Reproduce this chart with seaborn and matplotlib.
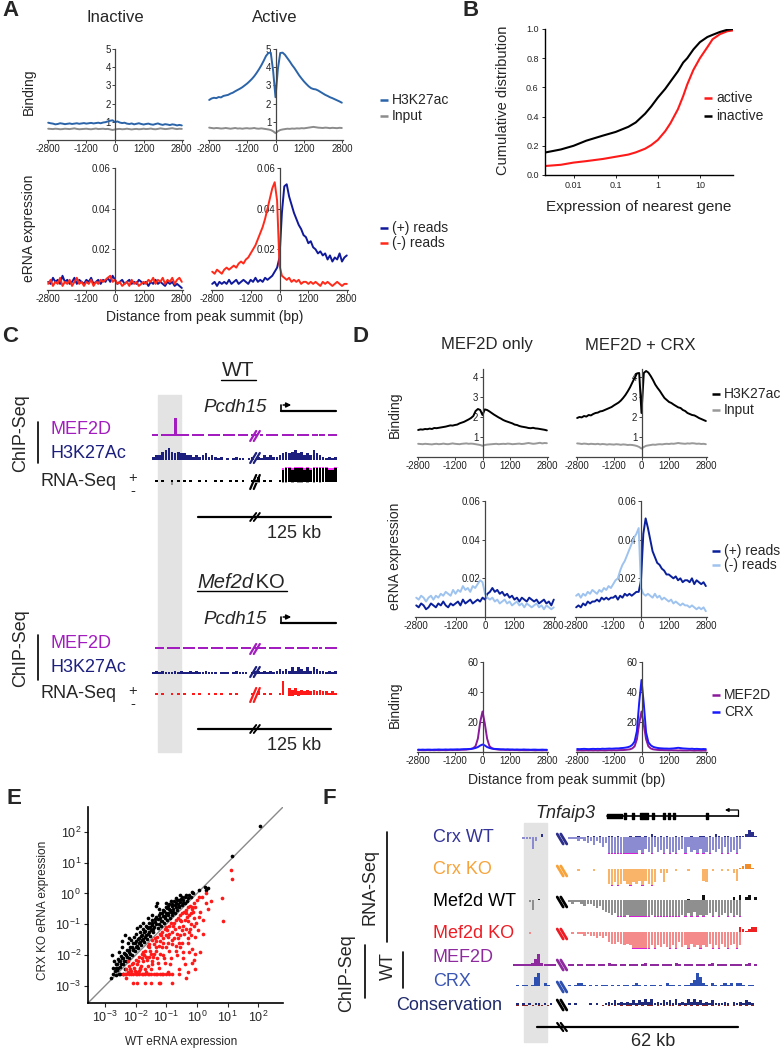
import matplotlib
matplotlib.use('Agg')
import matplotlib.pyplot as plt
from matplotlib.patches import Rectangle
import numpy as np
import seaborn as sns

sns.set_theme(style='white')
plt.rcParams['font.family'] = ['Liberation Sans', 'DejaVu Sans']
plt.rcParams['axes.facecolor'] = 'none'

# ---------------- data ----------------
POS = [-2800, -2700, -2600, -2500, -2400, -2300, -2200, -2100,
       -2000, -1900, -1800, -1700, -1600, -1500, -1400, -1300,
       -1200, -1100, -1000, -900, -800, -700, -600, -500,
       -400, -300, -200, -100, 0, 100, 200, 300,
       400, 500, 600, 700, 800, 900, 1000, 1100,
       1200, 1300, 1400, 1500, 1600, 1700, 1800, 1900,
       2000, 2100, 2200, 2300, 2400, 2500, 2600, 2700, 2800]

# panel A, binding
A_IN_H3 = [0.95, 0.92, 0.90, 0.86, 0.88, 0.92, 0.90, 0.87,
           0.89, 0.91, 0.88, 0.90, 0.92, 0.89, 0.91, 0.93,
           0.90, 0.92, 0.94, 0.91, 0.93, 0.95, 0.92, 0.96,
           0.98, 1.02, 1.06, 1.08, 0.98, 1.02, 0.96, 0.93,
           0.95, 0.90, 0.88, 0.91, 0.86, 0.89, 0.92, 0.88,
           0.85, 0.88, 0.90, 0.86, 0.84, 0.88, 0.91, 0.86,
           0.83, 0.87, 0.85, 0.82, 0.86, 0.84, 0.80, 0.83, 0.80]
A_IN_INPUT = [0.62, 0.61, 0.60, 0.62, 0.61, 0.59, 0.60, 0.62,
              0.61, 0.60, 0.62, 0.64, 0.61, 0.59, 0.60, 0.61,
              0.62, 0.60, 0.59, 0.61, 0.63, 0.60, 0.61, 0.62,
              0.60, 0.61, 0.58, 0.55, 0.58, 0.60, 0.61, 0.59,
              0.60, 0.62, 0.60, 0.58, 0.60, 0.61, 0.59, 0.60,
              0.62, 0.60, 0.61, 0.63, 0.60, 0.59, 0.61, 0.64,
              0.62, 0.60, 0.61, 0.63, 0.65, 0.62, 0.60, 0.62, 0.61]
A_AC_H3 = [2.20, 2.28, 2.32, 2.30, 2.36, 2.34, 2.42, 2.45,
           2.48, 2.55, 2.60, 2.68, 2.75, 2.82, 2.90, 3.00,
           3.10, 3.22, 3.35, 3.50, 3.68, 3.88, 4.10, 4.35,
           4.62, 4.78, 4.80, 3.80, 2.35, 3.90, 4.78, 4.80,
           4.68, 4.50, 4.32, 4.12, 3.95, 3.75, 3.55, 3.38,
           3.22, 3.08, 2.95, 2.85, 2.80, 2.78, 2.72, 2.64,
           2.56, 2.48, 2.42, 2.35, 2.30, 2.24, 2.18, 2.12, 2.05]
A_AC_INPUT = [0.68, 0.66, 0.64, 0.66, 0.65, 0.63, 0.64, 0.66,
              0.64, 0.62, 0.64, 0.66, 0.63, 0.64, 0.62, 0.64,
              0.65, 0.63, 0.64, 0.66, 0.63, 0.62, 0.64, 0.62,
              0.60, 0.58, 0.55, 0.48, 0.38, 0.48, 0.55, 0.58,
              0.60, 0.62, 0.61, 0.63, 0.62, 0.64, 0.63, 0.65,
              0.64, 0.66, 0.68, 0.70, 0.72, 0.70, 0.68, 0.67,
              0.66, 0.68, 0.67, 0.65, 0.67, 0.66, 0.65, 0.67, 0.66]

# panel A, eRNA
A_IN_PLUS = [0.004, 0.003, 0.006, 0.004, 0.005, 0.003, 0.007, 0.004,
             0.005, 0.003, 0.004, 0.006, 0.003, 0.005, 0.004, 0.003,
             0.005, 0.004, 0.006, 0.003, 0.004, 0.005, 0.003, 0.005,
             0.004, 0.006, 0.004, 0.007, 0.005, 0.003, 0.004, 0.005,
             0.003, 0.004, 0.005, 0.003, 0.004, 0.003, 0.005, 0.004,
             0.003, 0.004, 0.002, 0.004, 0.003, 0.005, 0.003, 0.004,
             0.003, 0.002, 0.004, 0.003, 0.004, 0.002, 0.003, 0.002, 0.001]
A_IN_MINUS = [0.003, 0.005, 0.002, 0.004, 0.003, 0.006, 0.002, 0.004,
              0.003, 0.005, 0.002, 0.004, 0.006, 0.003, 0.004, 0.002,
              0.004, 0.003, 0.005, 0.002, 0.004, 0.003, 0.005, 0.004,
              0.005, 0.006, 0.007, 0.004, 0.005, 0.003, 0.004, 0.002,
              0.003, 0.004, 0.002, 0.005, 0.003, 0.004, 0.002, 0.003,
              0.004, 0.003, 0.005, 0.004, 0.006, 0.003, 0.005, 0.004,
              0.006, 0.003, 0.005, 0.004, 0.006, 0.003, 0.005, 0.006, 0.004]
A_AC_PLUS = [0.003, 0.004, 0.002, 0.004, 0.003, 0.004, 0.003, 0.005,
             0.003, 0.004, 0.005, 0.003, 0.004, 0.005, 0.004, 0.003,
             0.005, 0.004, 0.006, 0.004, 0.005, 0.004, 0.006, 0.005,
             0.006, 0.007, 0.009, 0.011, 0.016, 0.038, 0.051, 0.052,
             0.046, 0.042, 0.038, 0.035, 0.032, 0.030, 0.027, 0.026,
             0.023, 0.024, 0.021, 0.020, 0.018, 0.019, 0.017, 0.018,
             0.015, 0.017, 0.014, 0.016, 0.015, 0.018, 0.014, 0.016, 0.017]
A_AC_MINUS = [0.009, 0.008, 0.010, 0.009, 0.008, 0.010, 0.011, 0.010,
              0.011, 0.012, 0.011, 0.013, 0.014, 0.013, 0.015, 0.016,
              0.018, 0.020, 0.022, 0.025, 0.028, 0.031, 0.035, 0.040,
              0.045, 0.050, 0.053, 0.044, 0.012, 0.007, 0.006, 0.005,
              0.006, 0.004, 0.005, 0.004, 0.005, 0.003, 0.004, 0.004,
              0.003, 0.004, 0.003, 0.004, 0.003, 0.002, 0.004, 0.003,
              0.004, 0.003, 0.002, 0.003, 0.004, 0.003, 0.002, 0.003, 0.003]

# panel B
B_X = [0.0022, 0.005, 0.01, 0.02, 0.05, 0.1, 0.2, 0.3, 0.5, 0.7, 1, 1.5,
       2, 3, 4, 5, 7, 10, 15, 20, 30, 45, 60]
B_INACTIVE = [0.155, 0.175, 0.20, 0.235, 0.27, 0.295, 0.33, 0.36, 0.42, 0.47,
              0.53, 0.59, 0.64, 0.71, 0.77, 0.80, 0.86, 0.91, 0.945, 0.96,
              0.98, 0.995, 1.0]
B_ACTIVE = [0.062, 0.07, 0.085, 0.095, 0.11, 0.125, 0.14, 0.155, 0.18, 0.205,
            0.24, 0.30, 0.355, 0.45, 0.54, 0.62, 0.72, 0.80, 0.875, 0.93,
            0.965, 0.985, 0.99]

# panel D, binding
D_ONLY_H3 = [1.35, 1.38, 1.37, 1.40, 1.39, 1.42, 1.40, 1.45,
             1.44, 1.46, 1.48, 1.50, 1.52, 1.55, 1.58, 1.57,
             1.60, 1.62, 1.68, 1.72, 1.76, 1.82, 1.88, 1.95,
             2.05, 2.30, 2.40, 2.35, 2.10, 2.38, 2.35, 2.28,
             2.20, 2.12, 2.05, 1.98, 1.92, 1.85, 1.80, 1.76,
             1.72, 1.68, 1.62, 1.60, 1.55, 1.52, 1.50, 1.48,
             1.45, 1.44, 1.46, 1.43, 1.42, 1.40, 1.38, 1.36, 1.33]
D_ONLY_INPUT = [0.66, 0.65, 0.64, 0.66, 0.65, 0.64, 0.63, 0.65,
                0.66, 0.64, 0.65, 0.67, 0.65, 0.64, 0.66, 0.68,
                0.66, 0.65, 0.64, 0.66, 0.67, 0.68, 0.66, 0.67,
                0.66, 0.64, 0.62, 0.60, 0.56, 0.60, 0.62, 0.63,
                0.64, 0.65, 0.66, 0.64, 0.65, 0.66, 0.65, 0.67,
                0.66, 0.64, 0.65, 0.66, 0.67, 0.65, 0.66, 0.68,
                0.70, 0.68, 0.66, 0.67, 0.69, 0.71, 0.68, 0.70, 0.69]
D_CRX_H3 = [1.95, 2.00, 1.98, 2.05, 2.02, 2.10, 2.08, 2.15,
            2.20, 2.22, 2.28, 2.30, 2.35, 2.40, 2.45, 2.50,
            2.58, 2.65, 2.72, 2.82, 2.95, 3.10, 3.28, 3.48,
            3.72, 3.95, 4.18, 4.20, 2.20, 4.20, 4.30, 4.22,
            4.05, 3.85, 3.62, 3.45, 3.30, 3.12, 2.95, 2.85,
            2.75, 2.70, 2.62, 2.55, 2.48, 2.45, 2.35, 2.30,
            2.20, 2.15, 2.10, 2.08, 2.02, 1.95, 1.90, 1.85, 1.80]
D_CRX_INPUT = [0.68, 0.67, 0.65, 0.67, 0.66, 0.64, 0.66, 0.65,
               0.64, 0.66, 0.63, 0.65, 0.64, 0.62, 0.64, 0.63,
               0.62, 0.64, 0.63, 0.61, 0.63, 0.62, 0.60, 0.61,
               0.60, 0.58, 0.55, 0.50, 0.42, 0.50, 0.56, 0.58,
               0.60, 0.62, 0.61, 0.63, 0.64, 0.63, 0.65, 0.66,
               0.65, 0.67, 0.66, 0.68, 0.70, 0.68, 0.67, 0.66,
               0.68, 0.67, 0.69, 0.68, 0.66, 0.67, 0.65, 0.66, 0.64]

# panel D, eRNA
D_ONLY_PLUS = [0.006, 0.005, 0.007, 0.006, 0.004, 0.005, 0.007, 0.006,
               0.005, 0.007, 0.006, 0.008, 0.006, 0.005, 0.007, 0.006,
               0.007, 0.008, 0.006, 0.009, 0.007, 0.008, 0.009, 0.007,
               0.008, 0.009, 0.008, 0.010, 0.009, 0.012, 0.013, 0.015,
               0.013, 0.014, 0.012, 0.013, 0.011, 0.012, 0.010, 0.011,
               0.009, 0.010, 0.008, 0.010, 0.009, 0.008, 0.010, 0.009,
               0.008, 0.009, 0.007, 0.008, 0.009, 0.007, 0.008, 0.006, 0.009]
D_ONLY_MINUS = [0.010, 0.009, 0.011, 0.010, 0.008, 0.010, 0.011, 0.009,
                0.011, 0.010, 0.012, 0.011, 0.013, 0.012, 0.011, 0.014,
                0.012, 0.014, 0.013, 0.016, 0.014, 0.015, 0.013, 0.016,
                0.015, 0.017, 0.019, 0.018, 0.012, 0.010, 0.009, 0.010,
                0.008, 0.009, 0.007, 0.008, 0.009, 0.007, 0.008, 0.006,
                0.007, 0.008, 0.006, 0.007, 0.005, 0.007, 0.006, 0.005,
                0.006, 0.007, 0.005, 0.006, 0.004, 0.006, 0.005, 0.004, 0.005]
D_CRX_PLUS = [0.005, 0.006, 0.005, 0.007, 0.006, 0.008, 0.007, 0.008,
              0.008, 0.009, 0.008, 0.010, 0.009, 0.010, 0.009, 0.010,
              0.010, 0.011, 0.009, 0.011, 0.010, 0.012, 0.011, 0.012,
              0.011, 0.012, 0.013, 0.013, 0.019, 0.043, 0.051, 0.046,
              0.040, 0.034, 0.031, 0.028, 0.027, 0.025, 0.024, 0.022,
              0.022, 0.021, 0.020, 0.021, 0.019, 0.020, 0.018, 0.019,
              0.019, 0.018, 0.020, 0.017, 0.019, 0.018, 0.017, 0.018, 0.016]
D_CRX_MINUS = [0.011, 0.012, 0.010, 0.012, 0.011, 0.013, 0.012, 0.014,
               0.013, 0.012, 0.014, 0.013, 0.015, 0.014, 0.016, 0.015,
               0.017, 0.019, 0.020, 0.024, 0.027, 0.029, 0.032, 0.035,
               0.038, 0.041, 0.043, 0.046, 0.015, 0.012, 0.011, 0.012,
               0.011, 0.010, 0.012, 0.010, 0.011, 0.009, 0.010, 0.009,
               0.008, 0.009, 0.007, 0.008, 0.007, 0.006, 0.007, 0.006,
               0.006, 0.005, 0.006, 0.005, 0.004, 0.005, 0.004, 0.005, 0.003]

# panel D, TF binding
D_ONLY_MEF2D = [1.2, 1.3, 1.2, 1.2, 1.3, 1.2, 1.3, 1.2,
                1.3, 1.2, 1.3, 1.3, 1.2, 1.3, 1.4, 1.3,
                1.4, 1.3, 1.4, 1.5, 1.5, 1.6, 1.8, 2.0,
                2.6, 4.0, 9.0, 20.0, 27.0, 19.0, 9.0, 4.0,
                2.6, 2.0, 1.8, 1.6, 1.5, 1.5, 1.4, 1.4,
                1.3, 1.4, 1.3, 1.3, 1.2, 1.3, 1.2, 1.2,
                1.2, 1.3, 1.2, 1.1, 1.2, 1.2, 1.1, 1.2, 1.1]
D_ONLY_CRX = [1.6, 1.5, 1.6, 1.5, 1.6, 1.6, 1.5, 1.6,
              1.6, 1.7, 1.6, 1.6, 1.7, 1.6, 1.7, 1.7,
              1.7, 1.8, 1.7, 1.8, 1.9, 1.9, 2.0, 2.1,
              2.3, 2.7, 3.3, 4.3, 5.0, 4.4, 3.3, 2.7,
              2.3, 2.1, 2.0, 1.9, 1.8, 1.8, 1.7, 1.8,
              1.7, 1.7, 1.6, 1.7, 1.6, 1.6, 1.7, 1.6,
              1.6, 1.5, 1.6, 1.6, 1.5, 1.5, 1.6, 1.5, 1.5]
D_CRX_MEF2D = [1.0, 1.1, 1.0, 1.0, 1.1, 1.0, 1.1, 1.0,
               1.1, 1.0, 1.1, 1.1, 1.0, 1.1, 1.2, 1.1,
               1.2, 1.1, 1.2, 1.3, 1.3, 1.4, 1.6, 1.8,
               2.4, 3.8, 8.5, 19.0, 27.0, 18.0, 8.5, 3.8,
               2.4, 1.8, 1.6, 1.4, 1.3, 1.3, 1.2, 1.2,
               1.1, 1.2, 1.1, 1.1, 1.0, 1.1, 1.0, 1.0,
               1.0, 1.1, 1.0, 0.9, 1.0, 1.0, 0.9, 1.0, 0.9]
D_CRX_CRX = [2.0, 1.9, 2.0, 2.1, 2.0, 1.9, 2.0, 2.1,
             2.0, 2.1, 2.0, 2.2, 2.1, 2.2, 2.3, 2.2,
             2.3, 2.4, 2.4, 2.6, 2.7, 2.9, 3.2, 3.7,
             4.8, 7.0, 14.0, 33.0, 48.0, 32.0, 13.0, 6.5,
             4.5, 3.5, 3.0, 2.7, 2.5, 2.4, 2.3, 2.3,
             2.2, 2.3, 2.4, 2.6, 2.8, 2.6, 2.4, 2.3,
             2.2, 2.1, 2.2, 2.0, 2.1, 2.0, 1.9, 2.0, 1.9]

# panel E, log10 eRNA expression (WT, CRX KO)
BLACK_LOGX = [2.05, 1.15, 0.25, 0.35, 0.05, -0.12, -0.2, -0.25, -0.3, -0.32,
              -0.38, -0.4, -0.45, -0.48, -0.5, -0.55, -0.58, -0.6, -0.62, -0.65,
              -0.68, -0.7, -0.72, -0.75, -0.78, -0.8, -0.82, -0.85, -0.88, -0.9,
              -0.92, -0.95, -0.98, -1.0, -1.02, -1.05, -1.08, -1.1, -1.12, -1.15,
              -1.18, -1.2, -1.22, -1.25, -1.28, -1.3, -1.33, -1.35, -1.38, -1.4,
              -1.42, -1.45, -1.48, -1.5, -1.52, -1.55, -1.58, -1.6, -1.62, -1.65,
              -1.68, -1.7, -1.72, -1.75, -1.78, -1.8, -1.82, -1.85, -1.88, -1.9,
              -1.92, -1.95, -1.98, -2.0, -2.02, -2.05, -2.08, -2.1, -2.12, -2.15,
              -2.18, -2.2, -2.22, -2.25, -2.28, -2.3, -2.32, -2.35, -2.38, -2.4,
              -2.42, -2.45, -2.48, -2.5, -2.52, -2.55, -2.58, -2.6, -2.62, -2.65,
              -2.7, -2.72, -2.75, -2.78, -2.8, -2.5, -2.4, -2.35, -0.15, 0.3,
              -1.0, -0.7, -1.6, -2.0, -1.25, -0.95, -0.55, -0.85, -1.75, -2.2,
              -0.35, -0.45, -0.52, -0.6, -0.66, -0.73, -0.77, -0.83, -0.87, -0.93,
              -0.97, -1.03, -1.07, -1.13, -1.17, -1.23, -1.27, -1.32, -1.37, -1.43,
              -1.47, -1.53, -1.57, -1.63, -1.67, -1.73, -1.77, -1.83, -1.87, -1.93,
              -1.97, -2.03, -2.07, -2.13, -2.17, -2.23, -2.27, -2.33, -2.37, -2.43,
              -2.47, -2.53, -2.57, -2.63, -2.68, -2.55, -2.65, -2.45, -1.85, -1.45]
BLACK_LOGY = [2.2, 1.2, 0.2, 0.18, 0.12, 0.0, -0.1, -0.05, -0.15, -0.25,
              -0.12, -0.3, -0.2, -0.38, -0.1, -0.28, -0.45, -0.2, -0.35, -0.55,
              -0.3, -0.45, -0.62, -0.25, -0.5, -0.7, -0.4, -0.6, -0.78, -0.35,
              -0.52, -0.7, -0.85, -0.45, -0.62, -0.8, -0.95, -0.55, -0.72, -0.88,
              -1.05, -0.62, -0.8, -0.98, -1.12, -0.3, -0.4, -0.75, -0.92, -1.1,
              -1.25, -0.85, -1.02, -1.2, -1.38, -0.95, -1.12, -1.3, -1.48, -1.05,
              -1.22, -1.4, -1.58, -1.15, -1.35, -1.52, -1.68, -1.25, -1.45, -1.62,
              -1.78, -1.12, -1.55, -1.72, -1.88, -1.4, -1.62, -1.8, -1.98, -1.5,
              -1.72, -1.9, -2.08, -1.6, -1.82, -2.0, -2.18, -1.35, -1.92, -2.1,
              -2.28, -1.75, -2.02, -2.2, -2.38, -1.9, -2.12, -2.3, -2.48, -2.65,
              -2.2, -2.4, -2.6, -2.0, -2.75, -2.6, -2.6, -2.45, 0.05, 0.1,
              -0.3, -0.15, -0.8, -1.3, -0.5, -0.4, -0.05, -0.25, -0.95, -1.45,
              -0.05, -0.32, -0.18, -0.42, -0.22, -0.38, -0.6, -0.33, -0.55, -0.62,
              -0.48, -0.72, -0.58, -0.65, -0.9, -0.7, -0.82, -1.0, -0.82, -1.15,
              -0.95, -1.08, -1.25, -1.1, -1.35, -1.25, -1.48, -1.38, -1.58, -1.48,
              -1.7, -1.6, -1.82, -1.72, -1.95, -1.82, -2.05, -1.95, -2.18, -2.1,
              -2.3, -2.2, -2.42, -2.3, -2.5, -2.6, -2.4, -1.55, -1.05, -0.7]
RED_LOGX = [-2.4, -2.3, -2.2, -2.1, -2.0, -1.9, -1.8, -1.7, -1.6, -1.5,
            -1.4, -1.3, -1.2, -1.1, -1.0, -0.9, -0.8, -2.35, -2.15, -1.95,
            -1.75, -1.55, -1.35, -1.15, -2.1, -1.95, -1.7, -1.5, -1.25, -1.2,
            -0.8, -2.3, -0.35, -0.6, -0.3, -0.15, -0.05,
            -2.3, -2.2, -2.1, -2.05, -2.0, -1.95, -1.9, -1.85, -1.8, -1.75,
            -1.7, -1.65, -1.6, -1.55, -1.5, -1.45, -1.4, -1.35, -1.3, -1.25,
            -1.2, -1.15, -1.1, -1.05, -1.0, -0.95, -0.9, -0.85, -0.8, -0.75,
            -0.7, -0.65, -0.6, -0.55, -0.5, -0.45, -0.4, -0.35, -0.3, -0.25,
            -0.2, -0.15, -0.1, -2.25, -2.15, -1.9, -1.7, -1.5, -1.35, -1.2,
            -1.05, -0.9, -0.75, -0.62, -0.48, -0.35, -0.22, -0.1, -1.6, -1.45,
            -1.3, -1.15, -1.0, -0.85, -0.7, -0.55, -0.42, -0.28, -1.8, -1.4,
            -1.1, -0.8, -0.6, -0.5, -0.3, -0.65, -0.95, -1.25, -1.55, -2.0,
            -0.45, -0.2, -0.05, 0.0, 0.05,
            1.1, 1.15, 0.8, 0.85, 0.45, 0.3, 0.35, 0.2, 0.2, 0.1,
            -0.1, -0.05, -0.3, -0.2, 0.15, 0.3, 0.1, -0.1, -0.15,
            -2.25, -2.12, -2.02, -1.92, -1.82, -1.72, -1.62, -1.52, -1.42, -1.32,
            -1.22, -1.12, -1.02, -0.92, -0.82, -0.72, -0.62, -0.52, -0.42, -0.32,
            -0.22, -0.12, -0.02, -1.77, -1.57, -1.37, -1.17, -0.97, -0.77, -0.57,
            -0.37, -0.17, -1.87, -1.47, -1.07, -0.67, -0.27, -0.87, -0.47, -1.27,
            -2.18, -1.65, -0.95, -0.4, -0.6, 0.05, -0.08, 0.02, -0.55, -0.25]
RED_LOGY = [-2.6, -2.6, -2.6, -2.6, -2.6, -2.6, -2.6, -2.6, -2.6, -2.6,
            -2.6, -2.6, -2.6, -2.6, -2.6, -2.6, -2.6, -2.6, -2.6, -2.6,
            -2.6, -2.6, -2.6, -2.6, -2.9, -2.9, -2.9, -2.9, -2.9, -2.9,
            -2.9, -2.75, -2.75, -2.6, -2.55, -2.25, -1.95,
            -2.45, -2.35, -2.25, -2.4, -2.15, -2.3, -2.05, -2.4, -1.95, -2.2,
            -1.85, -2.05, -2.35, -1.75, -1.95, -2.2, -1.65, -1.85, -2.1, -2.4,
            -1.55, -1.75, -2.0, -2.25, -1.35, -1.6, -1.85, -2.1, -1.25, -1.45,
            -1.7, -2.0, -1.1, -1.35, -1.6, -1.9, -0.85, -1.15, -1.45, -0.7,
            -1.0, -0.5, -0.8, -2.2, -2.5, -2.5, -2.45, -2.45, -1.55, -1.3,
            -1.15, -1.05, -0.95, -0.8, -0.65, -0.55, -0.4, -0.3, -1.7, -1.5,
            -1.4, -1.25, -1.1, -0.95, -0.85, -0.7, -0.6, -0.45, -2.1, -1.95,
            -1.6, -1.5, -1.6, -1.2, -0.9, -1.3, -1.4, -1.7, -2.05, -2.55,
            -1.05, -0.65, -0.45, -0.2, -0.1,
            0.75, 0.48, -0.15, -0.9, -0.25, -0.3, -0.5, -0.85, -1.3, -1.9,
            -2.15, -2.45, -1.6, -1.35, -0.1, 0.0, -0.6, -1.05, -1.8,
            -2.55, -2.3, -2.5, -2.2, -2.35, -2.0, -2.15, -1.85, -2.05, -1.75,
            -1.95, -1.45, -1.75, -1.3, -1.65, -1.15, -1.45, -0.9, -1.3, -0.75,
            -1.15, -0.6, -0.95, -1.9, -1.65, -1.45, -1.35, -1.2, -1.05, -0.85,
            -0.65, -0.45, -2.45, -2.3, -2.1, -1.85, -1.25, -2.3, -2.1, -2.25,
            -2.45, -2.55, -2.55, -2.3, -2.45, -0.75, -1.4, -1.2, -1.75, -1.9]

# panel C, genome tracks (relative bar heights in 60 bins)
C_WT_MEF2D = "1101111911" "1101111011" "1101111011" "1011010111" "1011110111" "1011110111"
C_WT_H3 = "2335675454" "4332323423" "2120101211" "0120213232" "2345456453" "4364321212"
C_WT_RNA_UP = "0101001010" "1010010100" "1010010101" "0011301010" "0189989998" "9899999889"
C_WT_RNA_DN = "0000002000" "0000000000" "0000000000" "0001100000" "0011010110" "1010100000"
C_KO_MEF2D = "0111011110" "1111011101" "1110111101" "1101111011" "1101110111" "1011101111"
C_KO_H3 = "1212111212" "1121211211" "1011101211" "1012212121" "2323242432" "4243221212"
C_KO_RNA_UP = "0101001010" "1001010010" "1010010100" "0010201010" "0180434232" "3232322121"
C_KO_RNA_DN = "0000000000" "0000000000" "0000000000" "0000000000" "0000110100" "0000000000"

# panel F, genome tracks (relative bar heights in 80 bins)
CRXWT_DN = "0001116200" "00000000" "1112123242353" "9999999999" "7968958796989769587969897869598796" "00000"
CRXWT_UP = "0000000002" "00000000" "00010010101001101000101" "1010210101001010010011010210110011" "12431"
CRXKO_DN = "0000000000" "00000000" "0001000010000" "8979868978696897" "02720010001000" "0670" "10010102" "60" "00000"
CRXKO_UP = "0000000000" "0000000000" "0000000000" "0000000000" "0000000000" "0000000000" "0000000000" "0000123310"
MEFWT_DN = "0000015000" "00000000" "12112322343" "56787" "99989999999899999999989" "796989879698797989" "00000"
MEFWT_UP = "0000000010" "0000000000" "0000000000" "0000000000" "0000000000" "0000000100" "0030000000" "0020302302"
MEFKO_DN = "0000010000" "00000000" "0101121223232" "56656767" "999999" "797868979587968797869796897697" "00000"
MEFKO_UP = "0000000000" "0000000000" "0000000000" "0000000000" "0000000000" "0000000000" "0000000000" "0000321233"
F_MEF2D = "1111112592111" "10000" "1101101110" "1102110110" "1110120111" "0111021011" "1011101201" "1101111012" "01"
F_CRX = "0101101690210" "00000" "1012210101" "0110101011" "0121010110" "1021101011" "2496210210" "121202210110"
F_CONS_UP = "0101010110101" "00000" "1010000101" "0012131212" "1313242412" "1323141214" "2423121311" "121021213210"
F_CONS_DN = "0101101011010" "00000" "0000000000" "0101010101" "1010101101" "0101101010" "1010110101" "011010101010"

# Tnfaip3 gene model (kb from left edge of the F window)
TNF_GENE = (29.0, 69.4)
TNF_UTR = [(29.0, 4.6)]
TNF_EXONS = [(34.4, 0.6), (36.8, 0.6), (39.2, 2.4), (42.8, 0.6),
             (46.4, 0.5), (47.8, 0.5), (49.4, 0.6), (59.6, 0.6)]

# ---------------- figure helpers ----------------
W, H = 780, 1050
fig = plt.figure(figsize=(7.8, 10.5), dpi=100)
canvas = fig.add_axes([0, 0, 1, 1])
canvas.set_xlim(0, W)
canvas.set_ylim(H, 0)
canvas.axis('off')


def box(x0, y0, x1, y1):
    return fig.add_axes([x0 / W, 1 - y1 / H, (x1 - x0) / W, (y1 - y0) / H])


def txt(x, y, s, size=10, **kw):
    kw.setdefault('ha', 'left')
    kw.setdefault('va', 'center')
    canvas.text(x, y, s, fontsize=size, **kw)


def legend(x, y, label, color, size=10):
    canvas.plot([x, x + 8], [y, y], color=color, lw=1.8, solid_capstyle='butt')
    txt(x + 12, y, label, size)


def brk(x, y, color, back=False, lw=1.6, h=5):
    s = -1 if back else 1
    for d in (-1.8, 1.8):
        canvas.plot([x - 3 + d, x + 3 + d], [y + s * h, y - s * h], color=color, lw=lw)


def profile(rect, series, ylim, yticks):
    ax = box(*rect)
    for vals, color in series:
        sns.lineplot(x=POS, y=vals, color=color, lw=1.4, ax=ax)
    ax.set_xlim(-2850, 2850)
    ax.set_ylim(*ylim)
    ax.set_xticks([-2800, -1200, 0, 1200, 2800])
    ax.set_xticklabels(['-2800', '-1200', '0', '1200', '2800'])
    ax.set_yticks(yticks)
    ax.set_yticklabels([f'{t:g}' for t in yticks])
    ax.spines['top'].set_visible(False)
    ax.spines['right'].set_visible(False)
    ax.spines['left'].set_position(('data', 0))
    for side in ['left', 'bottom']:
        ax.spines[side].set_color('#444444')
        ax.spines[side].set_linewidth(0.9)
    ax.tick_params(bottom=True, left=True, labelsize=7, length=2, width=0.6,
                   pad=1, colors='#222222')
    ax.set_xlabel('')
    ax.set_ylabel('')
    return ax


def heights(s):
    return [int(c) for c in s]


def track(rect, up, color, ylim, down=None, dcolor=None, cap=None, width=1.0):
    ax = box(*rect)
    hu = heights(up)
    ax.bar(range(len(hu)), hu, width=width, color=color, linewidth=0)
    if cap:
        top = [h if h >= 8 else 0 for h in hu]
        ax.bar(range(len(hu)), [0.7 if t else 0 for t in top], bottom=[t - 0.7 for t in top],
               width=width, color=cap, linewidth=0)
    if down is not None:
        hd = [-h for h in heights(down)]
        ax.bar(range(len(hd)), hd, width=width, color=dcolor, linewidth=0)
        if cap:
            ax.bar(range(len(hd)), [0.7 if h <= -9 else 0 for h in hd],
                   bottom=[h for h in hd], width=width, color=cap, linewidth=0)
    ax.set_xlim(-0.5, len(hu) - 0.5)
    ax.set_ylim(*ylim)
    ax.axis('off')
    return ax


# ---------------- panel A ----------------
BLUE_H3 = '#2b64a8'
GREY = '#8c8c8c'
NAVY = '#10199a'
RED = '#ff2a1a'

txt(2, 11, 'A', 16, weight='bold')
txt(115, 18, 'Inactive', 12, ha='center')
txt(275, 18, 'Active', 12, ha='center')
profile((47, 49, 183, 140), [(A_IN_H3, BLUE_H3), (A_IN_INPUT, GREY)], (0, 5), [1, 2, 3, 4, 5])
profile((208, 49, 343, 140), [(A_AC_H3, BLUE_H3), (A_AC_INPUT, GREY)], (0, 5), [1, 2, 3, 4, 5])
profile((47, 168, 183, 290), [(A_IN_PLUS, NAVY), (A_IN_MINUS, RED)], (0, 0.06), [0.02, 0.04, 0.06])
profile((211, 168, 348, 290), [(A_AC_PLUS, NAVY), (A_AC_MINUS, RED)], (0, 0.06), [0.02, 0.04, 0.06])
txt(29, 92, 'Binding', 10, rotation=90, ha='center')
txt(29, 228, 'eRNA expression', 10, rotation=90, ha='center')
txt(205, 317, 'Distance from peak summit (bp)', 10, ha='center')
legend(380, 100, 'H3K27ac', BLUE_H3)
legend(380, 116, 'Input', GREY)
legend(380, 228, '(+) reads', NAVY)
legend(380, 243, '(-) reads', RED)

# ---------------- panel B ----------------
txt(462, 10, 'B', 16, weight='bold')
axb = box(545, 29, 733, 175)
sns.lineplot(x=B_X, y=B_ACTIVE, color='#ff1a1a', lw=1.5, ax=axb)
sns.lineplot(x=B_X, y=B_INACTIVE, color='black', lw=1.5, ax=axb)
axb.set_xscale('log')
axb.set_xlim(0.0021, 61)
axb.set_ylim(0, 1.0)
axb.set_xticks([0.01, 0.1, 1, 10])
axb.set_xticklabels(['0.01', '0.1', '1', '10'])
axb.minorticks_off()
axb.set_yticks([0, 0.2, 0.4, 0.6, 0.8, 1.0])
axb.set_yticklabels(['0.0', '0.2', '0.4', '0.6', '0.8', '1.0'])
sns.despine(ax=axb)
for side in ['left', 'bottom']:
    axb.spines[side].set_color('black')
    axb.spines[side].set_linewidth(1.0)
axb.tick_params(bottom=True, left=True, labelsize=6.5, length=2.5, width=0.7, pad=2)
txt(503, 100, 'Cumulative distribution', 10.5, rotation=90, ha='center')
txt(639, 207, 'Expression of nearest gene', 11, ha='center')
legend(704, 98, 'active', '#ff1a1a')
legend(704, 116, 'inactive', 'black')

# ---------------- panel C ----------------
MEF_PURPLE = '#a21cbf'
H3_NAVY = '#1c1f7e'
txt(2, 337, 'C', 16, weight='bold')
canvas.add_patch(Rectangle((158, 395), 23, 357, color='#e3e3e3', zorder=0))

for (title_y, pc_y, chip_y, bar_y, mef_y, h3_y, rna_y, scale_y, rna_col,
     mef_s, h3_s, up_s, dn_s) in [
        (371, 407, 433, (422, 463), 430, 453, 481, 517, 'black',
         C_WT_MEF2D, C_WT_H3, C_WT_RNA_UP, C_WT_RNA_DN),
        (582, 619, 648, (635, 680), 643, 667, 694, 729, '#ff1a1a',
         C_KO_MEF2D, C_KO_H3, C_KO_RNA_UP, C_KO_RNA_DN)]:
    txt(21, chip_y, 'ChIP-Seq', 13, rotation=90, ha='center')
    canvas.plot([38, 38], list(bar_y), color='black', lw=1.2)
    txt(51, mef_y, 'MEF2D', 13, color=MEF_PURPLE)
    txt(51, h3_y, 'H3K27Ac', 13, color=H3_NAVY)
    txt(40, rna_y, 'RNA-Seq', 13)
    txt(133, rna_y - 3, '+', 10.5, ha='center')
    txt(133, rna_y + 10, '-', 10.5, ha='center')
    txt(235, pc_y, 'Pcdh15', 13.5, ha='center', style='italic')
    canvas.plot([281, 336], [pc_y + 4, pc_y + 4], color='black', lw=1.6)
    canvas.plot([281, 281], [pc_y + 4, pc_y - 2], color='black', lw=1.2)
    canvas.annotate('', xy=(294, pc_y - 2), xytext=(280.4, pc_y - 2),
                    arrowprops=dict(arrowstyle='-|>', lw=1.1, color='black', mutation_scale=7))
    track((152, mef_y - 13, 337, mef_y + 6), mef_s, MEF_PURPLE, (0, 9.5))
    track((152, h3_y - 9, 337, h3_y + 7), h3_s, H3_NAVY, (0, 9.5), width=0.85)
    track((152, rna_y - 15, 337, rna_y + 9), up_s, rna_col, (-5, 9.5), down=dn_s,
          dcolor='#9a9a9a' if rna_col == 'black' else rna_col,
          cap='#ff33ff' if rna_col == 'black' else None, width=0.85)
    brk(255, mef_y + 6, MEF_PURPLE)
    brk(255, h3_y + 5, H3_NAVY)
    brk(255, rna_y + 1, rna_col, h=7)
    canvas.plot([198, 331], [scale_y, scale_y], color='black', lw=1.6)
    brk(255, scale_y, 'black', lw=1.4, h=4)
    txt(294, scale_y + 16, '125 kb', 13, ha='center')

txt(238, 371, 'WT', 15, ha='center')
canvas.plot([221, 256], [380, 380], color='black', lw=1)
txt(197, 582, 'Mef2d', 14.5, style='italic')
txt(250, 582, ' KO', 14.5)
canvas.plot([197, 287], [591, 591], color='black', lw=1)

# ---------------- panel D ----------------
DNAVY = '#0a1f9a'
LBLUE = '#9ec3ef'
DPURPLE = '#8b1a9b'
DBLUE = '#1a1aff'
txt(353, 337, 'D', 16, weight='bold')
txt(487, 345, 'MEF2D only', 12, ha='center')
txt(640, 345, 'MEF2D + CRX', 12, ha='center')
profile((417, 369, 548, 457), [(D_ONLY_H3, 'black'), (D_ONLY_INPUT, '#999999')], (0, 4.4), [1, 2, 3, 4])
profile((576, 369, 707, 457), [(D_CRX_H3, 'black'), (D_CRX_INPUT, '#999999')], (0, 4.4), [1, 2, 3, 4])
profile((415, 501, 555, 617), [(D_ONLY_PLUS, DNAVY), (D_ONLY_MINUS, LBLUE)], (0, 0.06), [0.02, 0.04, 0.06])
profile((575, 501, 707, 617), [(D_CRX_PLUS, DNAVY), (D_CRX_MINUS, LBLUE)], (0, 0.06), [0.02, 0.04, 0.06])
profile((417, 662, 548, 752), [(D_ONLY_MEF2D, DPURPLE), (D_ONLY_CRX, DBLUE)], (0, 60), [20, 40, 60])
profile((576, 662, 707, 752), [(D_CRX_MEF2D, DPURPLE), (D_CRX_CRX, DBLUE)], (0, 60), [20, 40, 60])
txt(395, 415, 'Binding', 10, rotation=90, ha='center')
txt(395, 556, 'eRNA expression', 10, rotation=90, ha='center')
txt(395, 705, 'Binding', 10, rotation=90, ha='center')
txt(567, 780, 'Distance from peak summit (bp)', 10, ha='center')
legend(712, 394, 'H3K27ac', 'black')
legend(712, 410, 'Input', '#999999')
legend(712, 551, '(+) reads', DNAVY)
legend(712, 565, '(-) reads', LBLUE)
legend(712, 695, 'MEF2D', DPURPLE)
legend(712, 712, 'CRX', DBLUE)

# ---------------- panel E ----------------
txt(6, 799, 'E', 16, weight='bold')
axe = box(88, 807, 283, 1003)
sns.scatterplot(x=np.power(10.0, BLACK_LOGX), y=np.power(10.0, BLACK_LOGY), color='black',
                s=7, linewidth=0, ax=axe)
sns.scatterplot(x=np.power(10.0, RED_LOGX), y=np.power(10.0, RED_LOGY), color='#ff1a1a',
                s=7, linewidth=0, ax=axe)
axe.set_xscale('log')
axe.set_yscale('log')
axe.axline((1e-3, 1e-3), (1e2, 1e2), color='#8a8a8a', lw=1, zorder=0)
axe.set_xlim(10 ** -3.55, 10 ** 2.8)
axe.set_ylim(10 ** -3.55, 10 ** 2.8)
decades = [1e-3, 1e-2, 1e-1, 1e0, 1e1, 1e2]
axe.set_xticks(decades)
axe.set_yticks(decades)
axe.minorticks_off()
sns.despine(ax=axe)
for side in ['left', 'bottom']:
    axe.spines[side].set_color('black')
    axe.spines[side].set_linewidth(1.2)
axe.tick_params(bottom=True, left=True, labelsize=9, length=3, width=0.8, pad=2)
txt(43, 910, 'CRX KO eRNA expression', 8.5, rotation=90, ha='center')
txt(181, 1042, 'WT eRNA expression', 8.5, ha='center')

# ---------------- panel F ----------------
txt(323, 799, 'F', 16, weight='bold')
canvas.add_patch(Rectangle((524, 823), 23, 219, color='#e3e3e3', zorder=0))
txt(565, 813, 'Tnfaip3', 13, ha='center', style='italic')
axg = box(513, 806, 757, 826)
axg.plot(list(TNF_GENE), [0, 0], color='black', lw=1.2)
axg.broken_barh(TNF_UTR, (-0.45, 0.9), color='black')
axg.broken_barh(TNF_EXONS, (-0.65, 1.3), color='black')
axg.plot([TNF_GENE[1], TNF_GENE[1]], [0, 1.2], color='black', lw=0.9)
axg.annotate('', xy=(TNF_GENE[1] - 4.0, 1.2), xytext=(TNF_GENE[1] + 0.1, 1.2),
             arrowprops=dict(arrowstyle='-|>', lw=0.9, color='black', mutation_scale=5,
                             shrinkA=0, shrinkB=0))
axg.set_xlim(0, 75.3)
axg.set_ylim(-2, 2)
axg.axis('off')

rna_tracks = [
    ('Crx WT', '#333399', 838, CRXWT_UP, CRXWT_DN, '#2c2e8c', '#8a8bd0', '#2c2e8c'),
    ('Crx KO', '#f7a33a', 870, CRXKO_UP, CRXKO_DN, '#f28c28', '#f9b46a', '#f7a33a'),
    ('Mef2d WT', 'black', 901, MEFWT_UP, MEFWT_DN, '#111111', '#8f8f8f', 'black'),
    ('Mef2d KO', '#ee1c24', 933, MEFKO_UP, MEFKO_DN, '#ee2222', '#f58a8a', '#ee1c24'),
]
for name, lcol, y, up, dn, ucol, dcol, bcol in rna_tracks:
    txt(433, y, name, 13, color=lcol)
    track((513, y - 8, 757, y + 17), up, ucol, (-9.5, 4), down=dn, dcolor=dcol, cap='#d61fd6',
          width=0.8)
    brk(562, y + 1, bcol, back=True, lw=2)

txt(433, 958, 'MEF2D', 13, color='#8e2a9e')
track((513, 953, 757, 967), F_MEF2D, '#8e2a9e', (-1, 9.5))
brk(562, 965, '#8e2a9e', back=True, lw=2)
txt(433, 981, 'CRX', 13, color='#3a55b4')
track((513, 972, 757, 988), F_CRX, '#2d4fb0', (-1, 9.5))
brk(562, 987, '#2d4fb0', back=True, lw=2)
txt(396, 1006, 'Conservation', 13, color='#1f2a6b')
track((513, 997, 757, 1008.5), F_CONS_UP, '#1f2a7a', (-2.5, 5), down=F_CONS_DN, dcolor='#8b2020',
      width=0.85)
brk(562, 1005, 'black', back=True, lw=2)

txt(370, 887, 'RNA-Seq', 13, rotation=90, ha='center')
canvas.plot([387, 387], [832, 942], color='black', lw=1.2)
txt(347, 973, 'ChIP-Seq', 13, rotation=90, ha='center')
canvas.plot([365, 365], [945, 998], color='black', lw=1.2)
txt(388, 966, 'WT', 13, rotation=90, ha='center')
canvas.plot([403, 403], [952, 988], color='black', lw=1.2)

canvas.plot([537, 738], [1027, 1027], color='black', lw=1.6)
brk(562, 1027, 'black', back=True, lw=1.6, h=4)
txt(653, 1041, '62 kb', 13, ha='center')

fig.savefig('out.png', dpi=100)
